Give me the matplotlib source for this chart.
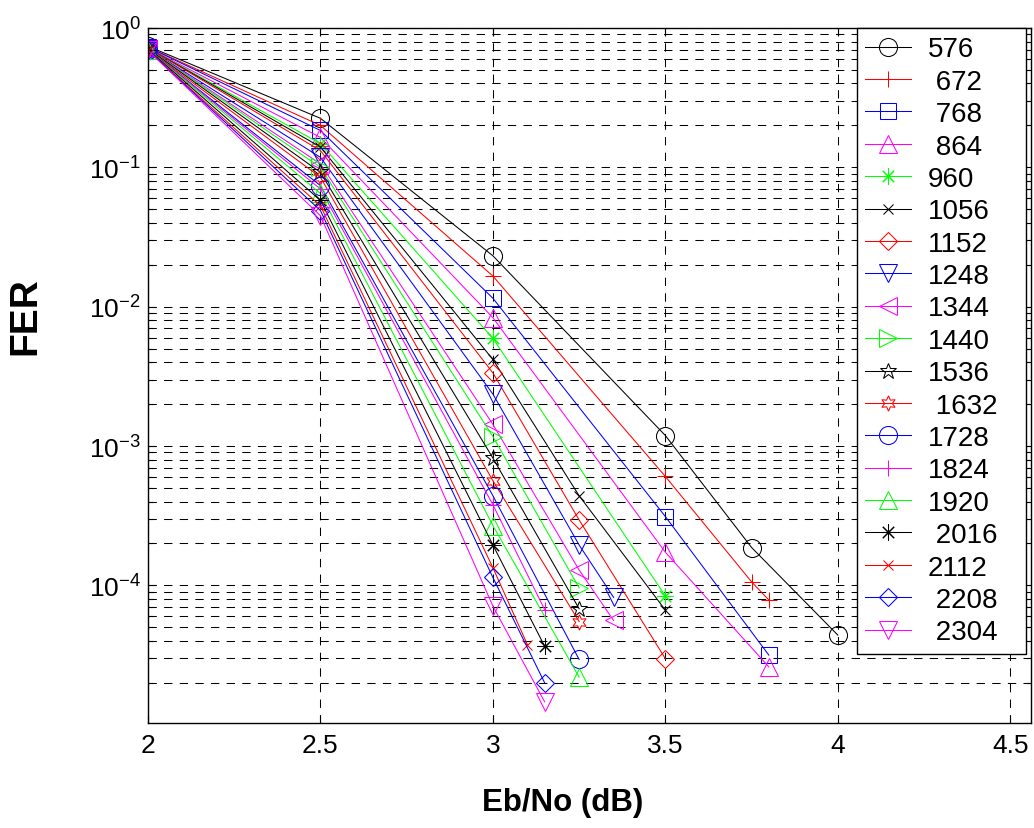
import matplotlib
matplotlib.use('Agg')
import matplotlib.pyplot as plt
import numpy as np
from matplotlib.ticker import LogLocator, FuncFormatter, NullFormatter, MultipleLocator

plt.rcParams['font.family'] = ['Liberation Sans', 'DejaVu Sans']
plt.rcParams['mathtext.default'] = 'regular'

# frame sizes (legend labels as in the original, some with a leading space)
labels = ['576', ' 672', ' 768', ' 864', '960', '1056', '1152', '1248', '1344',
          '1440', '1536', ' 1632', '1728', '1824', '1920', ' 2016', '2112',
          ' 2208', ' 2304']

# Eb/No points of each curve
ebno = [
    [2, 2.5, 3, 3.5, 3.75, 4.0],
    [2, 2.5, 3, 3.5, 3.75, 3.8],
    [2, 2.5, 3, 3.5, 3.8],
    [2, 2.5, 3, 3.5, 3.8],
    [2, 2.5, 3, 3.5],
    [2, 2.5, 3, 3.25, 3.5],
    [2, 2.5, 3, 3.25, 3.5],
    [2, 2.5, 3, 3.25, 3.35],
    [2, 2.5, 3, 3.25, 3.35],
    [2, 2.5, 3, 3.25],
    [2, 2.5, 3, 3.25],
    [2, 2.5, 3, 3.25],
    [2, 2.5, 3, 3.25],
    [2, 2.5, 3, 3.15],
    [2, 2.5, 3, 3.25],
    [2, 2.5, 3, 3.15],
    [2, 2.5, 3, 3.1],
    [2, 2.5, 3, 3.15],
    [2, 2.5, 3, 3.15],
]

# FER values of each curve
fer = [
    [0.74, 0.225, 0.0232, 1.19e-3, 1.87e-4, 4.4e-5],
    [0.73, 0.200, 0.0166, 6.05e-4, 1.06e-4, 7.85e-5],
    [0.73, 0.184, 0.0115, 3.12e-4, 3.16e-5],
    [0.72, 0.164, 0.00834, 1.73e-4, 2.6e-5],
    [0.72, 0.148, 0.00593, 8.4e-5],
    [0.72, 0.140, 0.00418, 4.4e-4, 6.65e-5],
    [0.72, 0.132, 0.00335, 2.95e-4, 2.98e-5],
    [0.71, 0.118, 0.00236, 1.95e-4, 8.2e-5],
    [0.71, 0.106, 0.00143, 1.29e-4, 5.6e-5],
    [0.71, 0.100, 0.00117, 9.6e-5],
    [0.71, 0.092, 8.2e-4, 6.8e-5],
    [0.70, 0.085, 5.64e-4, 5.5e-5],
    [0.70, 0.074, 4.4e-4, 2.94e-5],
    [0.70, 0.070, 3.79e-4, 6.7e-5],
    [0.70, 0.065, 2.69e-4, 2.2e-5],
    [0.70, 0.058, 1.95e-4, 3.66e-5],
    [0.69, 0.053, 1.34e-4, 3.76e-5],
    [0.69, 0.049, 1.14e-4, 2.0e-5],
    [0.69, 0.045, 7.1e-5, 1.46e-5],
]

# matlab colour order k r b m g
colors = ['#000000', '#ff0000', '#0000ff', '#ff00ff', '#00ff00'] * 4
# matlab-like markers: o + s ^ * x d v < > p h o + ^ * x d v
markers = ['o', '+', 's', '^', (8, 2, 0), 'x', 'D', 'v', '<', '>', '*', (6, 1, 0),
           'o', '+', '^', (8, 2, 0), 'x', 'D', 'v']
msizes = [13, 12, 11.5, 13, 11.5, 7, 9.5, 13, 13, 13, 12, 11,
          13, 12, 13, 11.5, 7, 9.5, 13]

fig = plt.figure(figsize=(10.34, 8.29), dpi=100)
ax = fig.add_axes([0.1431, 0.1267, 0.854, 0.8383])

for i in range(len(labels)):
    c = colors[i]
    ax.plot(ebno[i], fer[i], color=c, lw=0.75, marker=markers[i], ms=msizes[i],
            mfc='none', mec=c, mew=0.75, label=labels[i])

ax.set_yscale('log')
ax.set_xlim(2, 4.56)
ax.set_ylim(1.03e-5, 1)

ax.xaxis.set_major_locator(MultipleLocator(0.5))
ax.xaxis.set_major_formatter(FuncFormatter(lambda v, p: '%g' % v))
ax.yaxis.set_major_locator(LogLocator(base=10, numticks=10))
ax.yaxis.set_minor_locator(LogLocator(base=10, subs=np.arange(2, 10), numticks=20))
ax.yaxis.set_minor_formatter(NullFormatter())
ax.yaxis.set_major_formatter(FuncFormatter(lambda v, p: r'$10^{%d}$' % round(np.log10(v))))

ax.set_axisbelow(True)
ax.grid(True, which='major', axis='both', color='k', lw=0.75, linestyle=(0, (8, 7)))
ax.grid(True, which='minor', axis='y', color='k', lw=0.75, linestyle=(0, (8, 7)))

ax.tick_params(which='both', direction='in', top=True, right=True, labelsize=19)
ax.tick_params(which='major', length=6, width=0.8, pad=7)
ax.tick_params(which='minor', length=3.5, width=0.8)
ax.tick_params(axis='y', pad=5)
for s in ax.spines.values():
    s.set_linewidth(1.0)

leg = ax.legend(loc='upper left', bbox_to_anchor=(0.803, 0, 0.1914, 1.0), mode='expand',
                borderaxespad=0, fontsize=20, fancybox=False, edgecolor='k',
                framealpha=1, labelspacing=0.23, handlelength=1.65,
                handletextpad=0.6, borderpad=0.3, numpoints=1)
leg.get_frame().set_linewidth(1.0)

fig.text(563 / 1034, 1 - 803 / 829, 'Eb/No (dB)', fontsize=22.5, fontweight='bold',
         ha='center', va='center')
fig.text(25 / 1034, 1 - 316 / 829, 'FER', fontsize=28, fontweight='bold',
         rotation=90, ha='center', va='center')

fig.savefig('out.png', dpi=100)
